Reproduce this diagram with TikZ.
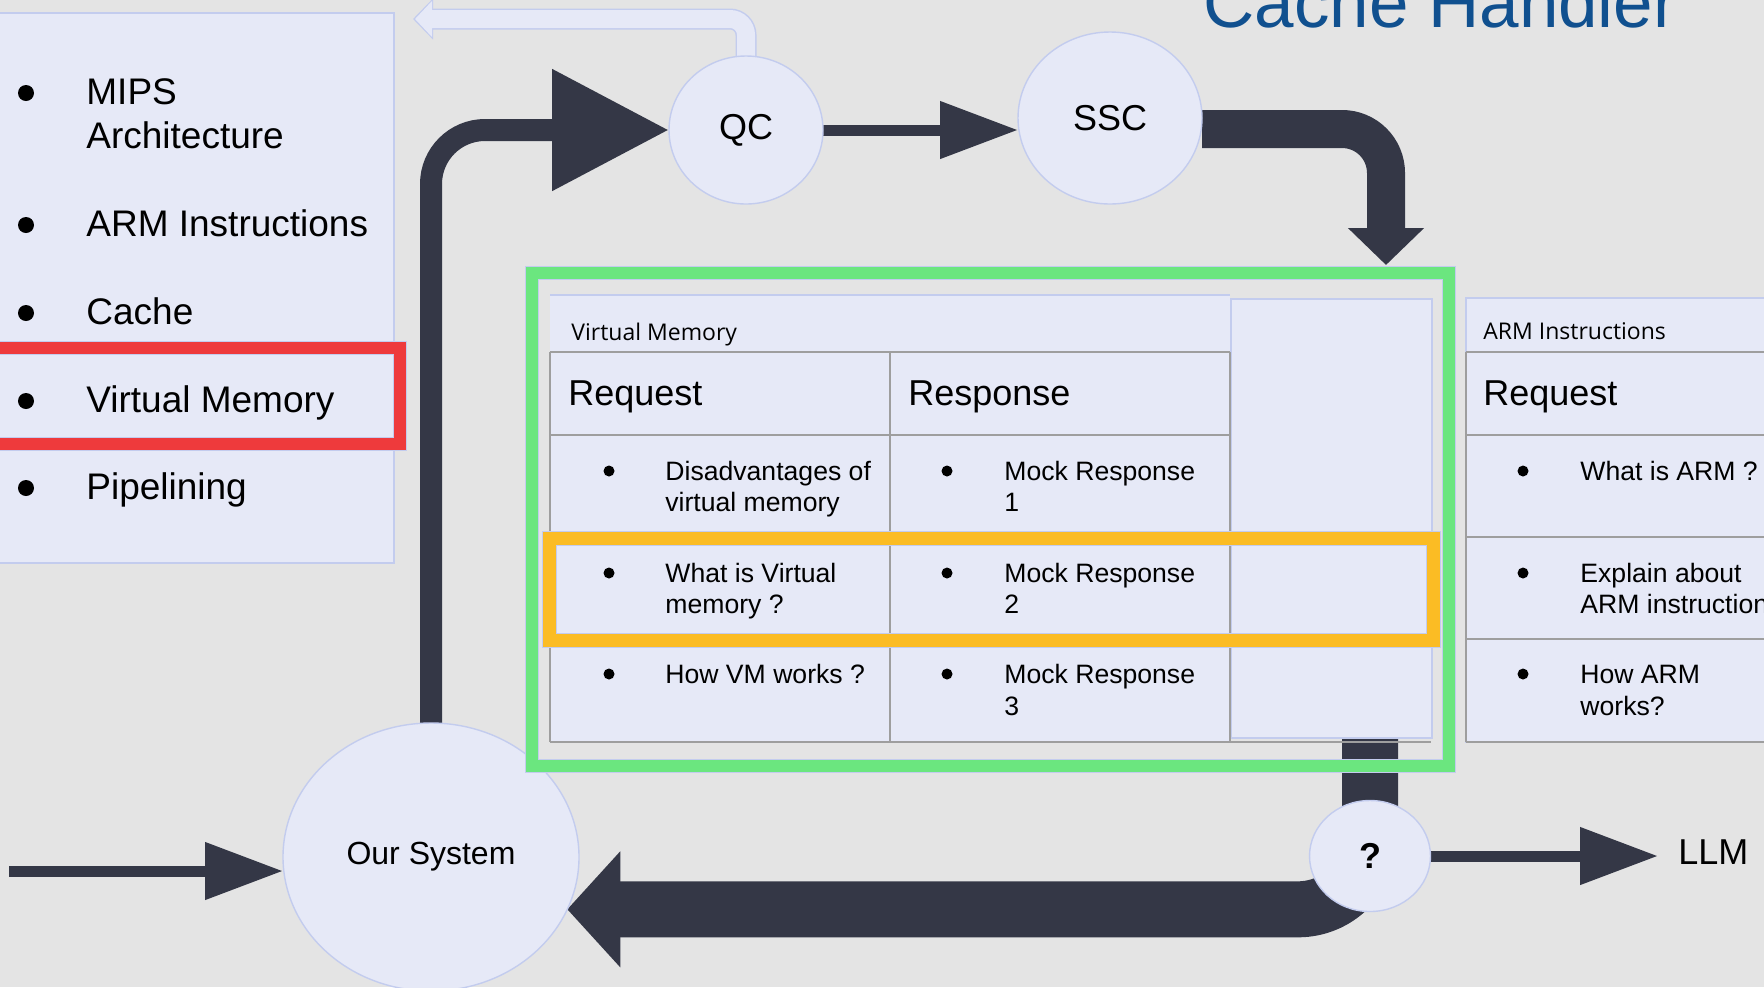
\documentclass[tikz,border=0pt]{standalone}
\usepackage{fontspec}
\setmainfont{Liberation Sans}
\newfontfamily\capfont{Open Sans}
\usetikzlibrary{arrows.meta,shapes.geometric}

\definecolor{bggray}{HTML}{E4E4E4}
\definecolor{lav}{HTML}{E6E9F7}
\definecolor{edgeblue}{HTML}{C3CCEE}
\definecolor{ink}{HTML}{343746}
\definecolor{rulegray}{HTML}{9E9E9E}
\definecolor{hlgreen}{HTML}{6BE67F}
\definecolor{hlorange}{HTML}{FBBC24}
\definecolor{hlred}{HTML}{EE3A3C}
\definecolor{titleblue}{HTML}{10508F}

\pgfdeclarelayer{backdrop}
\pgfdeclarelayer{flow}
\pgfsetlayers{backdrop,flow,main}

\tikzset{
  panelbox/.style={draw=edgeblue, line width=0.6pt, fill=lav, inner sep=0pt, outer sep=0pt},
  topic/.style={anchor=base west, inner sep=0pt, font=\fontsize{18.5}{22}\selectfont},
  captxt/.style={anchor=base west, inner sep=0pt, font=\capfont\fontsize{11.5}{14}\selectfont},
  headtxt/.style={anchor=base west, inner sep=0pt, font=\fontsize{18}{22}\selectfont},
  rowtxt/.style={anchor=base west, inner sep=0pt, font=\fontsize{13.3}{16}\selectfont},
  cellrule/.style={draw=rulegray, line width=1pt},
  bubble/.style={ellipse, draw=edgeblue, line width=0.7pt, fill=lav, inner sep=0pt, outer sep=0pt,
    font=\fontsize{18}{22}\selectfont},
  hlframe/.style={line width=#1, preaction={draw=edgeblue, line width=#1+1pt}},
  thinflow/.style={draw=ink, line width=5.5pt, -{Triangle[length=39pt,width=27.5pt]}},
  bigflow/.style={draw=ink, line width=11pt, rounded corners=27pt, -{Triangle[length=58.5pt,width=58pt]}},
  dropflow/.style={draw=ink, line width=19pt, rounded corners=22pt, -{Triangle[length=18.5pt,width=37pt]}},
  returnflow/.style={draw=ink, line width=28pt, rounded corners=36pt, -{Triangle[length=26.5pt,width=56.5pt]}},
  ghostflow/.style={line width=#1, rounded corners=8pt},
}

\begin{document}
\begin{tikzpicture}[x=0.5pt, y=-0.5pt]
  \clip (0,0) rectangle (1764,987);
  \begin{pgfonlayer}{backdrop}
    \fill[bggray] (0,0) rectangle (1764,987);
  \end{pgfonlayer}

  % title, cut at the top edge
  \node[anchor=base west, inner sep=0pt, text=titleblue, font=\fontsize{35.5}{40}\selectfont]
    (title) at (1203,27) {Cache Handler};

  % topic list
  \node[panelbox, anchor=north west, minimum width=207pt, minimum height=275pt] (topics) at (-20,13) {};
  \foreach \y/\txt [count=\i] in {104/MIPS, 148/Architecture, 236/ARM Instructions,
      324/Cache, 412/Virtual Memory, 499/Pipelining}
    \node[topic] (topic\i) at (86,\y) {\txt};
  \foreach \y in {93,225,313,401,488}
    \fill (26,\y) circle (4pt);
  \draw[hlred, hlframe=6.25pt] (-20,348) rectangle (400,444);

  % nodes of the flow
  \node[bubble, minimum width=77pt, minimum height=74pt] (qc) at (746,130) {QC};
  \node[bubble, minimum width=92pt, minimum height=86pt] (ssc) at (1110,118) {SSC};
  \node[bubble, minimum width=148pt, minimum height=134pt, font=\fontsize{16}{20}\selectfont]
    (sys) at (431,857) {Our System};
  \node[bubble, minimum width=60.5pt, minimum height=55.5pt, font=\bfseries\fontsize{18}{22}\selectfont]
    (ask) at (1370,856) {?};
  \node[anchor=west, inner xsep=10pt, inner ysep=0pt, font=\fontsize{18}{22}\selectfont]
    (llm) at (1658,852) {LLM};
  \coordinate (feed) at (9,871);
  \coordinate (back) at (413,19);
  \coordinate (drop) at (1386,265);
  \coordinate (vmout) at (1370,737);

  % Virtual Memory table
  \fill[lav] (550,295) rectangle (1230,742);
  \draw[edgeblue, line width=0.6pt] (550,295) -- (1230,295);
  \draw[panelbox] (1231,299) rectangle (1432,738);
  \foreach \y in {352,435,537,639}
    \draw[cellrule] (550,\y) -- (1230,\y);
  \draw[cellrule] (550,742) -- (1431,742);
  \foreach \x in {550,890,1230}
    \draw[cellrule] (\x,352) -- (\x,742);
  \node[captxt] (vmtitle) at (571,340) {Virtual Memory};
  \node[headtxt] (vmreq) at (568,405) {Request};
  \node[headtxt] (vmres) at (908,405) {Response};
  \foreach \y/\q/\a [count=\i] in {480/Disadvantages of/Mock Response, 511/virtual memory/1,
      582/What is Virtual/Mock Response, 613/memory ?/2, 683/How VM works ?/Mock Response, 715//3} {
    \node[rowtxt] (vmq\i) at (665,\y) {\q};
    \node[rowtxt] (vma\i) at (1004,\y) {\a};
  }
  \foreach \y in {471,573,674} {
    \fill (609,\y) circle (2.75pt);
    \fill (947,\y) circle (2.75pt);
  }

  % ARM Instructions table, cut at the right edge
  \draw[panelbox] (1466,298) rectangle (1800,742);
  \foreach \y in {352,435,537,639,742}
    \draw[cellrule] (1466,\y) -- (1800,\y);
  \draw[cellrule] (1466,352) -- (1466,742);
  \node[captxt] (armtitle) at (1483,339) {ARM Instructions};
  \node[headtxt] (armreq) at (1483,405) {Request};
  \foreach \y/\q [count=\i] in {480/What is ARM ?, 582/Explain about, 613/ARM instructions,
      683/How ARM, 715/works?}
    \node[rowtxt] (armq\i) at (1580,\y) {\q};
  \foreach \y in {471,573,674}
    \fill (1523,\y) circle (2.75pt);

  % highlights
  \draw[hlgreen, hlframe=6pt] (532,273) rectangle (1449,766);
  \draw[hlorange, hlframe=6.5pt] (549,538) rectangle (1433,640);

  % connectors, kept under the nodes and tables
  \begin{pgfonlayer}{flow}
    \draw[returnflow] (vmout) |- (sys.-21);
    \draw[thinflow] (feed) -- (feed -| sys.west);
    \draw[bigflow] (sys.north) |- (qc.west);
    \draw[thinflow] (qc.east) -- (qc.east -| ssc.west);
    \draw[dropflow] ([yshift=-5.5pt]ssc.east) -| (drop);
    \draw[edgeblue, ghostflow=10.5pt, -{Triangle[length=10pt,width=20pt]}] (qc.north) |- (back);
    \draw[lav, ghostflow=9pt, shorten >=1pt, -{Triangle[length=8.5pt,width=17.5pt]}] (qc.north) |- (back);
    \draw[thinflow] (ask.east) -- (ask.east -| llm.west);
  \end{pgfonlayer}
\end{tikzpicture}
\end{document}
